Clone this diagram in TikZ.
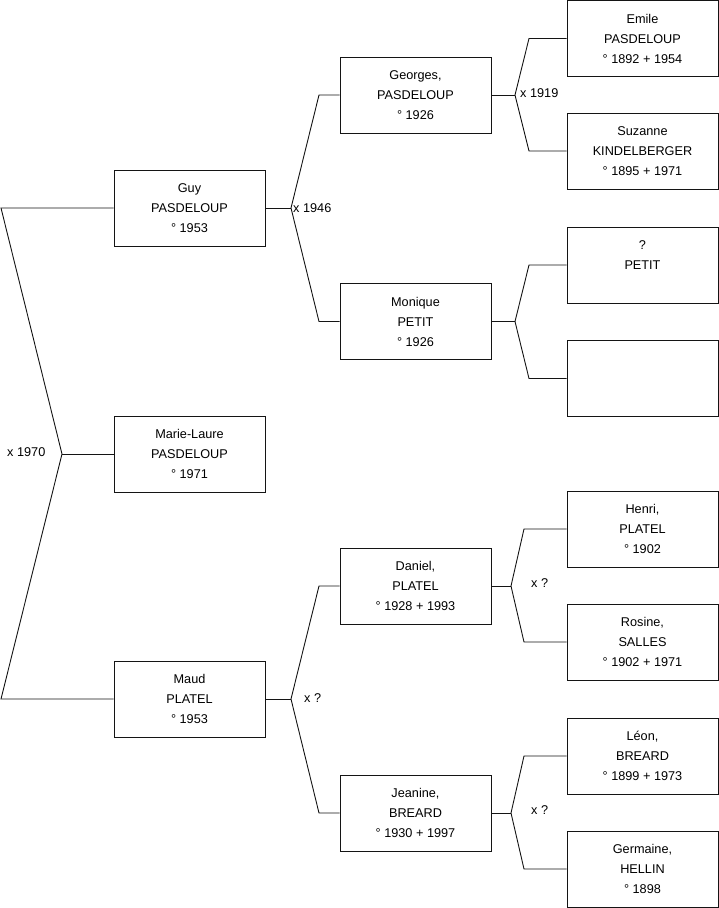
\documentclass[tikz,border=0pt]{standalone}
\usepackage{fontspec}
\setmainfont{Liberation Sans}
\usetikzlibrary{positioning}
\definecolor{treeLine}{RGB}{20,20,20}

\begin{document}
\begin{tikzpicture}[x=1pt, y=-1pt,
    person/.style={draw=treeLine, fill=white, minimum width=151pt, minimum height=76pt,
      inner sep=0pt, align=center, font=\fontsize{12.7}{20}\selectfont, line width=0.9pt},
    link/.style={draw=treeLine, line width=0.9pt},
    union/.style={font=\fontsize{12.7}{15}\selectfont, anchor=west, inner sep=0pt}
  ]
    \useasboundingbox (0,0) rectangle (719,908);
    % generation 1
    \node[person] (guy) at (189.5,208) {Guy\\PASDELOUP\\° 1953};
    \node[person] (marie) at (189.5,454) {Marie-Laure\\PASDELOUP\\° 1971};
    \node[person] (maud) at (189.5,699) {Maud\\PLATEL\\° 1953};
    % generation 2
    \node[person] (georges) at (415.5,95) {Georges,\\PASDELOUP\\° 1926};
    \node[person] (monique) at (415.5,321.5) {Monique\\PETIT\\° 1926};
    \node[person] (daniel) at (415.5,586) {Daniel,\\PLATEL\\° 1928 + 1993};
    \node[person] (jeanine) at (415.5,813) {Jeanine,\\BREARD\\° 1930 + 1997};
    % generation 3
    \node[person] (emile) at (642.5,38.5) {Emile\\PASDELOUP\\° 1892 + 1954};
    \node[person] (suzanne) at (642.5,151) {Suzanne\\KINDELBERGER\\° 1895 + 1971};
    \node[person] (petit) at (642.5,265) {?\\PETIT\\\mbox{}};
    \node[person] (unknown) at (642.5,378.5) {};
    \node[person] (henri) at (642.5,529) {Henri,\\PLATEL\\° 1902};
    \node[person] (rosine) at (642.5,642) {Rosine,\\SALLES\\° 1902 + 1971};
    \node[person] (leon) at (642.5,756) {Léon,\\BREARD\\° 1899 + 1973};
    \node[person] (germaine) at (642.5,869) {Germaine,\\HELLIN\\° 1898};

    % junction points
    \coordinate (jMarie) at (62,454);
    \coordinate (kGuy) at (1,208);
    \coordinate (kMaud) at (1,699);
    \coordinate (jGuy) at (291,208);
    \coordinate (kGeorges) at (319,95);
    \coordinate (kMonique) at (319,321.5);
    \coordinate (jMaud) at (291,699);
    \coordinate (kDaniel) at (319,586);
    \coordinate (kJeanine) at (319,813);
    \coordinate (jGeorges) at (515,95);
    \coordinate (kEmile) at (529,38.5);
    \coordinate (kSuzanne) at (529,151);
    \coordinate (jMonique) at (515,321.5);
    \coordinate (kPetit) at (529,265);
    \coordinate (kUnknown) at (529,378.5);
    \coordinate (jDaniel) at (511,586);
    \coordinate (kHenri) at (524,529);
    \coordinate (kRosine) at (524,642);
    \coordinate (jJeanine) at (511,813);
    \coordinate (kLeon) at (524,756);
    \coordinate (kGermaine) at (524,869);

    % connectors
    \draw[link] (guy.west) -- (kGuy) -- (jMarie) -- (kMaud) -- (maud.west);
    \draw[link] (jMarie) -- (marie.west);
    \draw[link] (guy.east) -- (jGuy);
    \draw[link] (georges.west) -- (kGeorges) -- (jGuy) -- (kMonique) -- (monique.west);
    \draw[link] (maud.east) -- (jMaud);
    \draw[link] (daniel.west) -- (kDaniel) -- (jMaud) -- (kJeanine) -- (jeanine.west);
    \draw[link] (georges.east) -- (jGeorges);
    \draw[link] (emile.west) -- (kEmile) -- (jGeorges) -- (kSuzanne) -- (suzanne.west);
    \draw[link] (monique.east) -- (jMonique);
    \draw[link] (petit.west) -- (kPetit) -- (jMonique) -- (kUnknown) -- (unknown.west);
    \draw[link] (daniel.east) -- (jDaniel);
    \draw[link] (henri.west) -- (kHenri) -- (jDaniel) -- (kRosine) -- (rosine.west);
    \draw[link] (jeanine.east) -- (jJeanine);
    \draw[link] (leon.west) -- (kLeon) -- (jJeanine) -- (kGermaine) -- (germaine.west);

    % marriage labels
    \node[union] (u1970) at (7,452) {x 1970};
    \node[union] (u1946) at (293,208) {x 1946};
    \node[union] (u1919) at (520,93) {x 1919};
    \node[union] (uMaud) at (304,698) {x ?};
    \node[union] (uDaniel) at (531,583) {x ?};
    \node[union] (uJeanine) at (531,810) {x ?};
  \end{tikzpicture}
\end{document}
